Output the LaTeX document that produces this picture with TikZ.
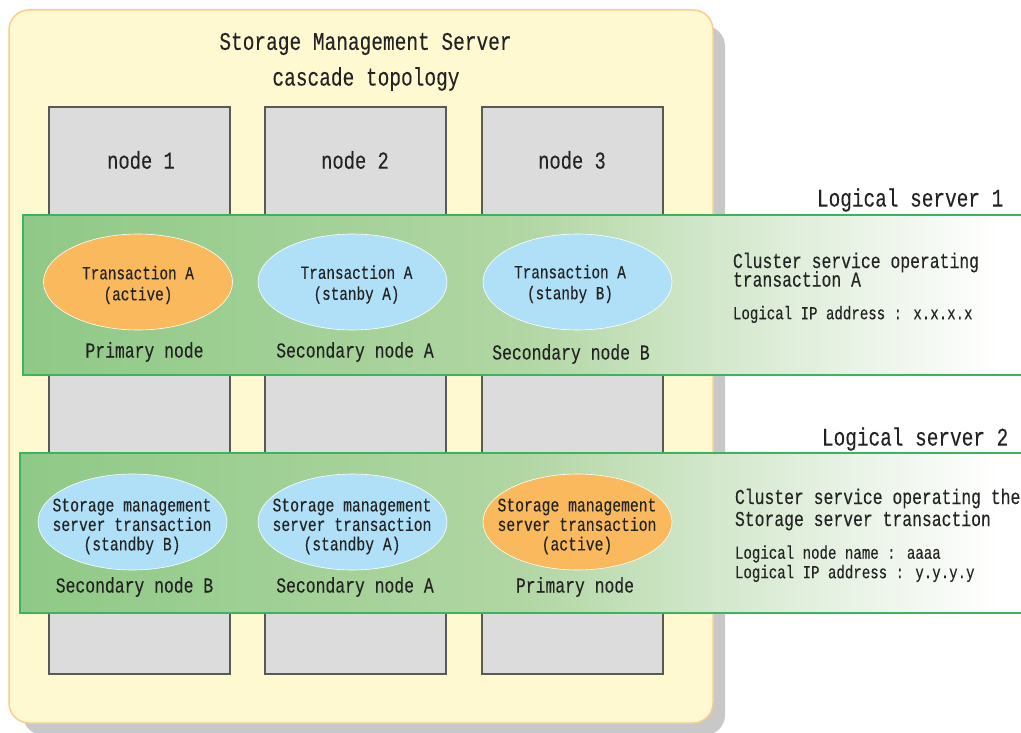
\documentclass[tikz,border=0pt]{standalone}
\usepackage{fontspec}
\setmainfont[FakeStretch=0.77,FakeBold=0.15]{Liberation Mono}
\usetikzlibrary{shapes.geometric}
\definecolor{paneFill}{RGB}{255,249,210}
\definecolor{paneEdge}{RGB}{250,205,140}
\definecolor{shadowGrey}{RGB}{200,200,200}
\definecolor{boxFill}{RGB}{220,220,220}
\definecolor{boxEdge}{RGB}{90,90,85}
\definecolor{bandEdge}{RGB}{60,180,95}
\definecolor{activeFill}{RGB}{249,185,92}
\definecolor{standbyFill}{RGB}{176,223,248}
\definecolor{inkText}{RGB}{35,35,35}
\pgfdeclarehorizontalshading{bandgrad}{100bp}{
 rgb(0bp)=(0.561,0.788,0.529);
 rgb(25bp)=(0.561,0.788,0.529);
 rgb(50bp)=(0.694,0.839,0.639);
 rgb(60bp)=(0.831,0.910,0.804);
 rgb(67.5bp)=(0.925,0.957,0.914);
 rgb(74bp)=(1,1,1);
 rgb(100bp)=(1,1,1)}
\tikzset{
 x=1pt,y=-1pt,
 pane/.style={draw=paneEdge,line width=1.5pt,fill=paneFill,rounded corners=20pt},
 shadowpane/.style={fill=shadowGrey,rounded corners=20pt},
 hostbox/.style={draw=boxEdge,line width=2.2pt,fill=boxFill},
 bandbox/.style={shading=bandgrad,shading angle=0},
 bandline/.style={draw=bandEdge,line width=1.6pt},
 txt/.style={inner sep=0pt,outer sep=0pt,text=inkText,font=\fontsize{#1}{#1}\selectfont},
 ovalshape/.style={ellipse,draw=white,line width=0.6pt,minimum width=189pt,minimum height=96pt,inner sep=0pt},
 active/.style={ovalshape,fill=activeFill},
 standby/.style={ovalshape,fill=standbyFill},
 ovaltext/.style={inner sep=0pt,align=center,text=inkText,font=\fontsize{18.6}{21}\selectfont},
 ovaltextb/.style={inner sep=0pt,align=center,text=inkText,font=\fontsize{19.1}{19.5}\selectfont},
 nodelabel/.style={txt=24.4},
 rolelabel/.style={txt=21.3},
 title/.style={txt=25.3},
 lserver/.style={txt=25.2,anchor=west},
 infolarge/.style={txt=21.3,anchor=west},
 infosmall/.style={txt=18.3,anchor=west},
}
\begin{document}
\begin{tikzpicture}
\useasboundingbox (0,0) rectangle (1021,733);
\fill[white] (0,0) rectangle (1021,733);
% pane
\fill[shadowpane] (23,26) rectangle (725,735);
\draw[pane] (9,10) rectangle (713,723);
\node[title] (t1) at (365.5,44) {Storage Management Server};
\node[title] (t2) at (366,79) {cascade topology};
% host columns
\draw[hostbox] (49,107) rectangle (230,674);
\draw[hostbox] (265,107) rectangle (446,674);
\draw[hostbox] (482,107) rectangle (663,674);
\node[nodelabel] (n1) at (141,160) {node 1};
\node[nodelabel] (n2) at (355,160) {node 2};
\node[nodelabel] (n3) at (572,160) {node 3};
% band 1
\fill[bandbox] (23,215) rectangle (1021,375);
\draw[bandline] (1021,215) -- (23,215) -- (23,375) -- (1021,375);
\node[lserver] (ls1) at (817,200) {Logical server 1};
\node[active] (e11) at (138,282) {};
\node[standby] (e12) at (352.5,282) {};
\node[standby] (e13) at (577.5,282) {};
\node[ovaltext] (e11t) at (138,285) {Transaction A\\(active)};
\node[ovaltext] (e12t) at (356.5,284.5) {Transaction A\\(stanby A)};
\node[ovaltext] (e13t) at (570,284) {Transaction A\\(stanby B)};
\node[rolelabel] (r11) at (144.5,352) {Primary node};
\node[rolelabel] (r12) at (355,352) {Secondary node A};
\node[rolelabel] (r13) at (571,354) {Secondary node B};
\node[infolarge] (i11) at (733,262.5) {Cluster service operating};
\node[infolarge] (i12) at (733,279) {transaction A};
\node[infosmall] (i13) at (733,314.5) {Logical IP address : x.x.x.x};
% band 2
\fill[bandbox] (20,453) rectangle (1021,613);
\draw[bandline] (1021,453) -- (20,453) -- (20,613) -- (1021,613);
\node[lserver] (ls2) at (822,439) {Logical server 2};
\node[standby] (e21) at (132.5,522) {};
\node[standby] (e22) at (352.5,522) {};
\node[active] (e23) at (577.5,522) {};
\node[ovaltextb] (e21t) at (132,526.5) {Storage management\\server transaction\\(standby B)};
\node[ovaltextb] (e22t) at (352,526.5) {Storage management\\server transaction\\(standby A)};
\node[ovaltextb] (e23t) at (577,526.5) {Storage management\\server transaction\\(active)};
\node[rolelabel] (r21) at (134.5,587) {Secondary node B};
\node[rolelabel] (r22) at (355,587) {Secondary node A};
\node[rolelabel] (r23) at (575,587) {Primary node};
\node[infolarge] (i21) at (735,498.5) {Cluster service operating the};
\node[infolarge] (i22) at (735,520.5) {Storage server transaction};
\node[infosmall] (i23) at (735,554) {Logical node name : aaaa};
\node[infosmall] (i24) at (735,573.5) {Logical IP address : y.y.y.y};
\end{tikzpicture}
\end{document}
